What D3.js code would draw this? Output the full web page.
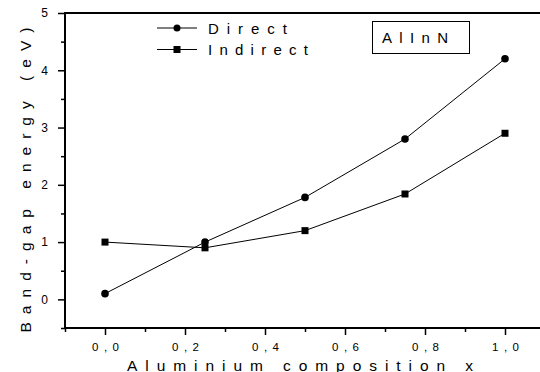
<!DOCTYPE html>
<html>
<head>
<meta charset="utf-8">
<script src="https://cdn.jsdelivr.net/npm/d3@7"></script>
<style>
  body { margin: 0; background: #fff; }
  svg { display: block; font-family: "Liberation Sans", Arial, sans-serif; }
</style>
</head>
<body>
<div id="chart"></div>
<script>
// data
var xValues = [0, 0.25, 0.5, 0.75, 1.0];
var directGap = [0.1, 1.0, 1.78, 2.8, 4.2];
var indirectGap = [1.0, 0.9, 1.2, 1.84, 2.9];
var xTicks = [0, 0.2, 0.4, 0.6, 0.8, 1.0];
var xTickLabels = ["0,0", "0,2", "0,4", "0,6", "0,8", "1,0"];
var yTicks = [0, 1, 2, 3, 4, 5];
var seriesNames = ["Direct", "Indirect"];

var svgWidth = 540, svgHeight = 372;
var margin = { top: 13, right: 0, bottom: 44, left: 65 };
var width = svgWidth - margin.left - margin.right;
var height = svgHeight - margin.top - margin.bottom;

var svg = d3.select("#chart").append("svg")
  .attr("width", svgWidth)
  .attr("height", svgHeight);

var chartGroup = svg.append("g")
  .attr("transform", `translate(${margin.left}, ${margin.top})`);

var xScale = d3.scaleLinear().domain([-0.1, 1.1]).range([0, 480]);
var yScale = d3.scaleLinear().domain([-0.5, 5]).range([height, 0]);

// minor ticks
var xMinor = d3.range(-0.1, 1.11, 0.2).map(d => +d.toFixed(2));
var yMinor = d3.range(-0.5, 5, 1).map(d => +d.toFixed(2));

chartGroup.append("g")
  .attr("transform", `translate(0, ${height})`)
  .call(d3.axisBottom(xScale).tickValues(xMinor).tickSize(4).tickFormat(""))
  .call(g => g.select(".domain").remove())
  .selectAll("line").attr("stroke-width", 1.5);

chartGroup.append("g")
  .call(d3.axisLeft(yScale).tickValues(yMinor).tickSize(4).tickFormat(""))
  .call(g => g.select(".domain").remove())
  .selectAll("line").attr("stroke-width", 1.5);

// major axes
var bottomAxis = d3.axisBottom(xScale)
  .tickValues(xTicks)
  .tickSize(7)
  .tickPadding(8)
  .tickFormat((d, i) => xTickLabels[i]);

var xAxis = chartGroup.append("g")
  .attr("transform", `translate(0, ${height})`)
  .call(bottomAxis);
xAxis.select(".domain").remove();
xAxis.selectAll("line").attr("stroke-width", 1.5);
xAxis.selectAll("text")
  .attr("font-size", 11.5)
  .attr("textLength", 27)
  .attr("lengthAdjust", "spacing")
  .attr("fill", "#000");

var leftAxis = d3.axisLeft(yScale)
  .tickValues(yTicks)
  .tickSize(7)
  .tickPadding(10)
  .tickFormat(d3.format("d"));
var yAxis = chartGroup.append("g").call(leftAxis);
yAxis.select(".domain").remove();
yAxis.selectAll("line").attr("stroke-width", 1.5);
yAxis.selectAll("text").attr("font-size", 12).attr("fill", "#000");

// frame lines: left, bottom, top
chartGroup.append("line").attr("x1", 0).attr("x2", 0).attr("y1", 0).attr("y2", height)
  .attr("stroke", "#000").attr("stroke-width", 2);
chartGroup.append("line").attr("x1", -1).attr("x2", width).attr("y1", height).attr("y2", height)
  .attr("stroke", "#000").attr("stroke-width", 2);
chartGroup.append("line").attr("x1", -1).attr("x2", width).attr("y1", 0).attr("y2", 0)
  .attr("stroke", "#000").attr("stroke-width", 2);

// lines
var line = d3.line().x(d => xScale(d[0])).y(d => yScale(d[1]));
var directData = xValues.map((x, i) => [x, directGap[i]]);
var indirectData = xValues.map((x, i) => [x, indirectGap[i]]);

chartGroup.append("path").datum(directData).attr("d", line)
  .attr("fill", "none").attr("stroke", "#000").attr("stroke-width", 1);
chartGroup.append("path").datum(indirectData).attr("d", line)
  .attr("fill", "none").attr("stroke", "#000").attr("stroke-width", 1);

chartGroup.selectAll(".sq").data(indirectData).enter().append("rect")
  .attr("x", d => xScale(d[0]) - 3.5)
  .attr("y", d => yScale(d[1]) - 3.5)
  .attr("width", 7).attr("height", 7).attr("fill", "#000");

chartGroup.selectAll(".dot").data(directData).enter().append("circle")
  .attr("cx", d => xScale(d[0]))
  .attr("cy", d => yScale(d[1]))
  .attr("r", 3.8).attr("fill", "#000");

// legend
var legendWidths = [79, 100];
var legend = svg.append("g");
seriesNames.forEach(function(name, i) {
  var ly = 28 + i * 21.5;
  legend.append("line").attr("x1", 157).attr("x2", 197).attr("y1", ly).attr("y2", ly)
    .attr("stroke", "#000").attr("stroke-width", 1);
  if (i === 0) {
    legend.append("circle").attr("cx", 177).attr("cy", ly).attr("r", 3.5).attr("fill", "#000");
  } else {
    legend.append("rect").attr("x", 173.5).attr("y", ly - 3.5).attr("width", 7).attr("height", 7).attr("fill", "#000");
  }
  legend.append("text").attr("x", 208).attr("y", ly + 5.5)
    .attr("font-size", 15)
    .attr("textLength", legendWidths[i]).attr("lengthAdjust", "spacing")
    .text(name);
});

// material box
svg.append("rect").attr("x", 372.5).attr("y", 21.5).attr("width", 97).attr("height", 32)
  .attr("fill", "none").attr("stroke", "#000").attr("stroke-width", 1);
svg.append("text").attr("x", 382).attr("y", 43)
  .attr("font-size", 15)
  .attr("textLength", 66).attr("lengthAdjust", "spacing")
  .text("AlInN");

// axis titles
svg.append("text")
  .attr("x", 300).attr("y", 370.5)
  .attr("text-anchor", "middle")
  .attr("font-size", 15.5)
  .attr("textLength", 346).attr("lengthAdjust", "spacing")
  .text("Aluminium composition x");

svg.append("text")
  .attr("transform", "translate(31, 180) rotate(-90)")
  .attr("text-anchor", "middle")
  .attr("font-size", 15.5)
  .attr("textLength", 305).attr("lengthAdjust", "spacing")
  .text("Band-gap energy (eV)");
</script>
</body>
</html>
